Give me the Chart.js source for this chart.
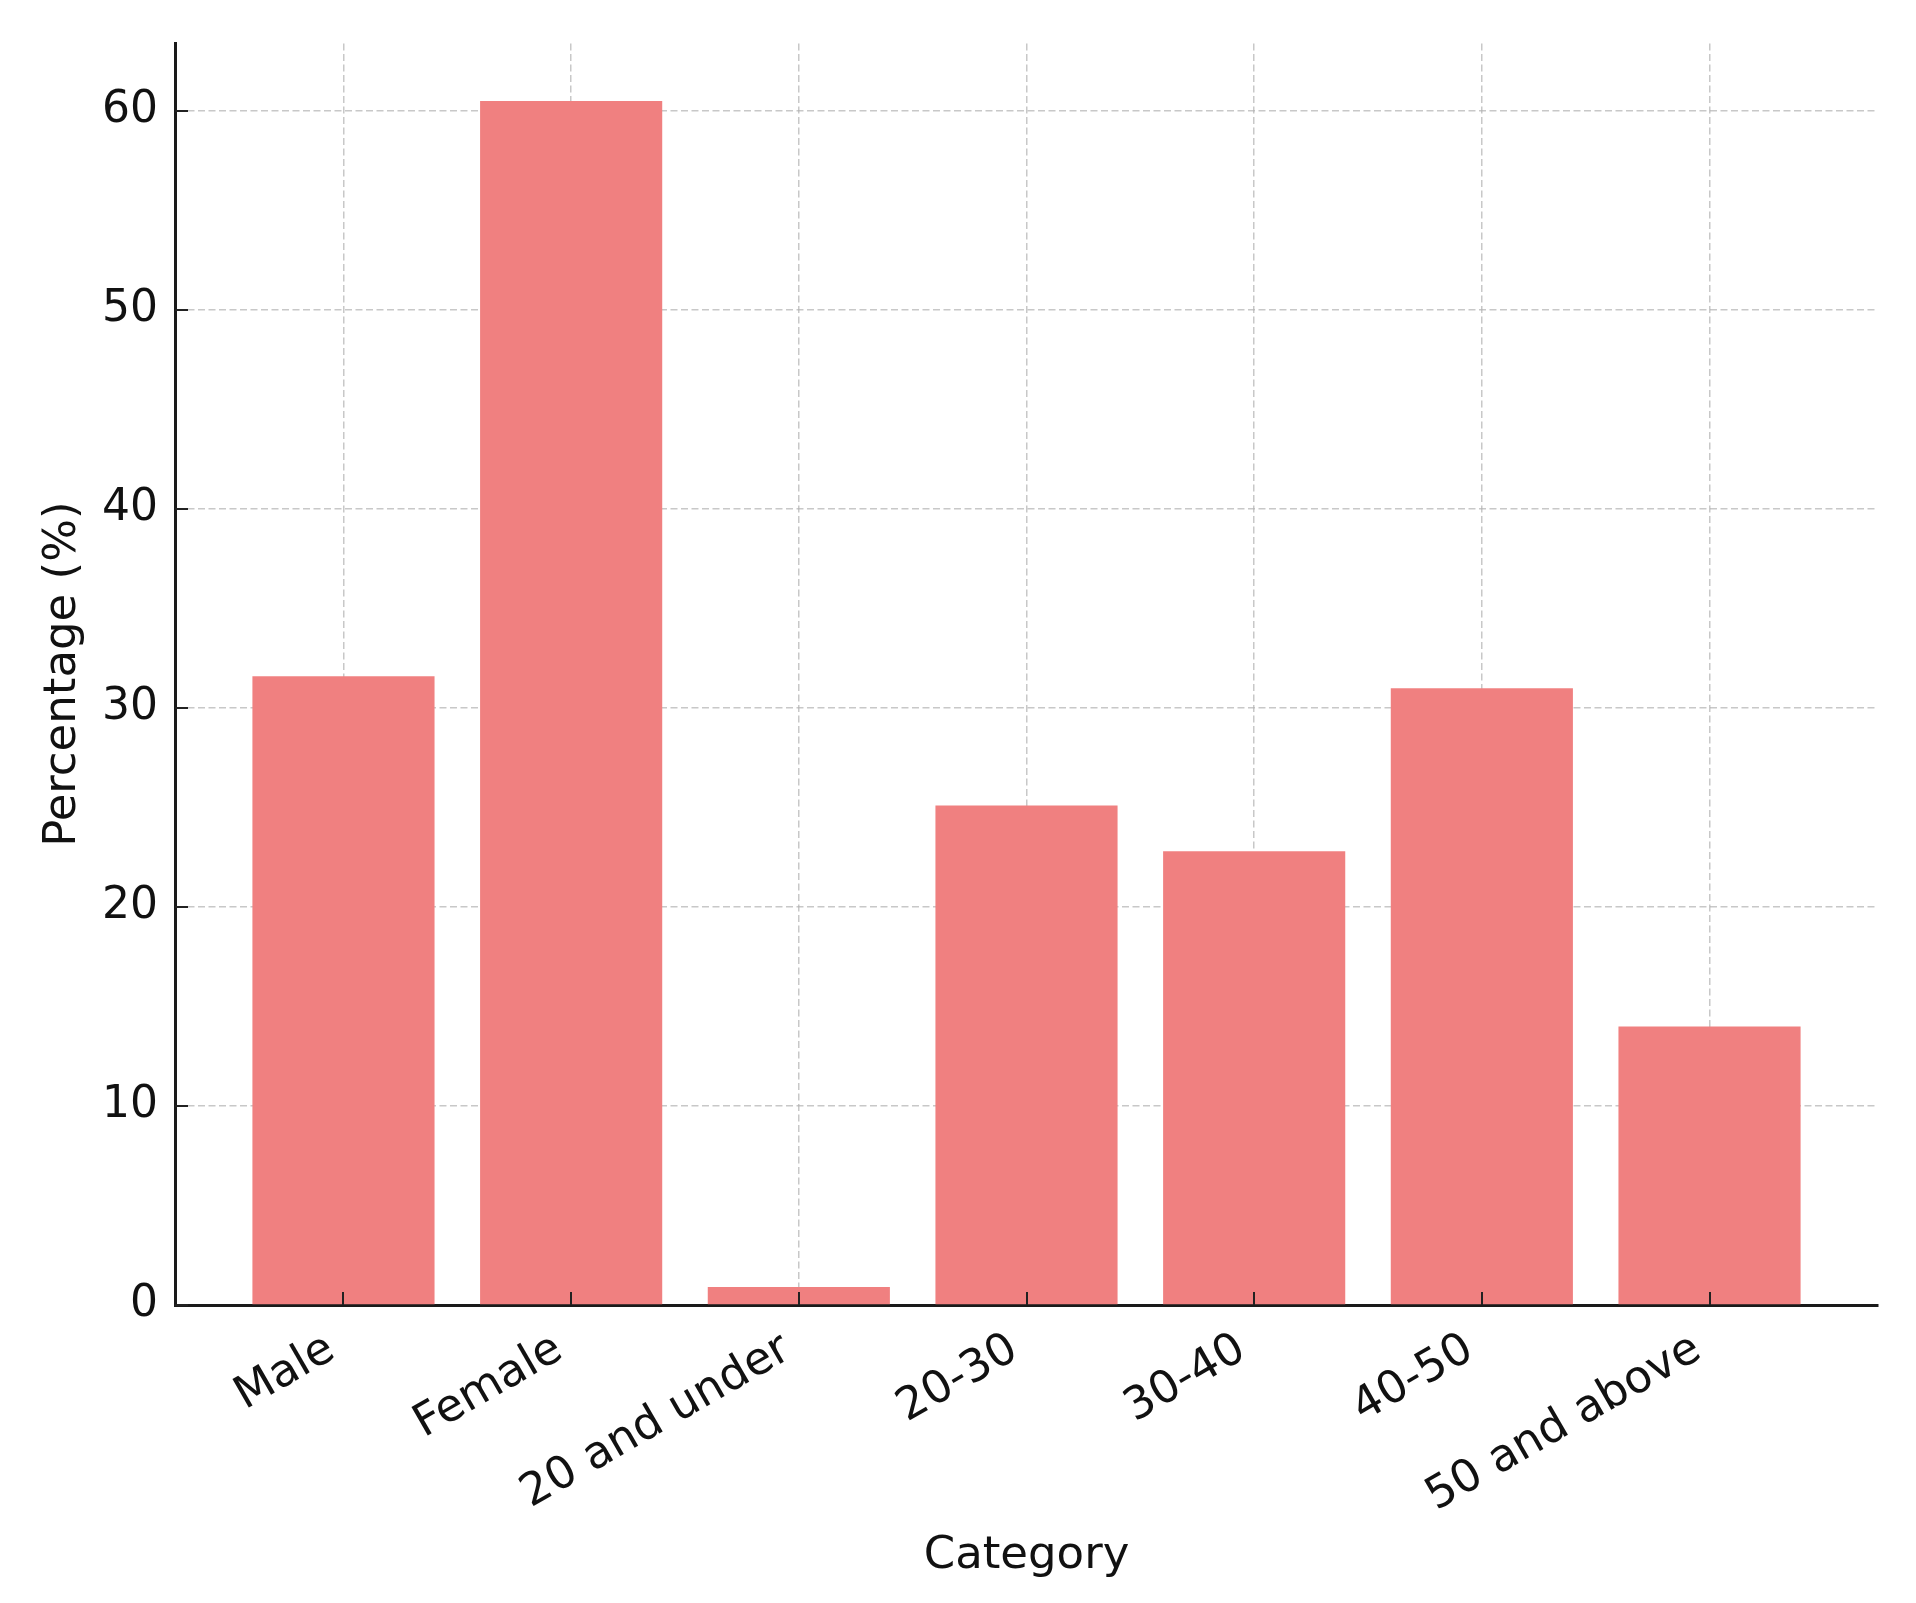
<!DOCTYPE html>
<html>
<head>
<meta charset="utf-8">
<script src="https://cdn.jsdelivr.net/npm/chart.js@4.4.1/dist/chart.umd.min.js"></script>
<style>
  html, body { margin: 0; padding: 0; background: #fff; }
  #chart { display: block; }
</style>
</head>
<body>
<canvas id="chart" width="1916" height="1603"></canvas>
<script>
// Chart data
const categories = ['Male', 'Female', '20 and under', '20-30', '30-40', '40-50', '50 and above'];
const percentages = [31.6, 60.5, 0.9, 25.1, 22.8, 31.0, 14.0];
const yTicks = [0, 10, 20, 30, 40, 50, 60];

const FONT = 'DejaVu Sans';
const TEXT = '#111111';
const GRID = 'rgba(176, 176, 176, 0.7)';

// Short tick marks pointing into the plot, like the original
const inwardTicks = {
    id: 'inwardTicks',
    afterDraw(chart) {
        const { ctx, chartArea, scales: { x, y } } = chart;
        ctx.save();
        ctx.strokeStyle = '#222';
        ctx.lineWidth = 2;
        ctx.beginPath();
        x.ticks.forEach(t => {
            const px = Math.round(x.getPixelForValue(t.value));
            ctx.moveTo(px, chartArea.bottom);
            ctx.lineTo(px, chartArea.bottom - 13);
        });
        y.ticks.forEach(t => {
            const py = Math.round(y.getPixelForValue(t.value));
            ctx.moveTo(chartArea.left, py);
            ctx.lineTo(chartArea.left + 13, py);
        });
        ctx.stroke();
        ctx.restore();
    }
};

const ctx = document.getElementById('chart').getContext('2d');

new Chart(ctx, {
    type: 'bar',
    data: {
        datasets: [{
            label: 'Percentage (%)',
            data: categories.map((c, i) => ({ x: i, y: percentages[i] })),
            backgroundColor: '#F08080',
            borderWidth: 0,
            categoryPercentage: 1.0,
            barPercentage: 0.8
        }]
    },
    options: {
        responsive: false,
        animation: false,
        devicePixelRatio: 1,
        layout: {
            padding: { top: 37, right: 38, left: 0, bottom: 0 }
        },
        plugins: {
            legend: { display: false },
            tooltip: { enabled: false }
        },
        scales: {
            x: {
                type: 'linear',
                min: -0.74,
                max: 6.74,
                offset: false,
                z: 1,
                afterBuildTicks: scale => {
                    scale.ticks = categories.map((c, i) => ({ value: i }));
                },
                afterFit: scale => { scale.height = 298; },
                grid: {
                    color: GRID,
                    lineWidth: 1.5,
                    drawTicks: false,
                    offset: false
                },
                // in v4 the dash here styles the grid lines, the axis line stays solid
                border: {
                    display: true,
                    color: '#1a1a1a',
                    width: 3,
                    dash: [7, 3.5]
                },
                ticks: {
                    autoSkip: false,
                    minRotation: 30,
                    maxRotation: 30,
                    padding: 18,
                    labelOffset: -12,
                    color: TEXT,
                    font: { family: FONT, size: 45 },
                    callback: value => categories[value]
                },
                title: {
                    display: true,
                    text: 'Category',
                    color: TEXT,
                    font: { family: FONT, size: 45, lineHeight: 1.2 },
                    padding: { top: 0, bottom: 20 }
                }
            },
            y: {
                type: 'linear',
                min: 0,
                max: 63.4,
                z: 1,
                afterBuildTicks: scale => {
                    scale.ticks = yTicks.map(v => ({ value: v }));
                },
                afterFit: scale => { scale.width = 175; },
                grid: {
                    color: GRID,
                    lineWidth: 1.5,
                    drawTicks: false
                },
                border: {
                    display: true,
                    color: '#1a1a1a',
                    width: 3,
                    dash: [7, 3.5]
                },
                ticks: {
                    padding: 17,
                    color: TEXT,
                    font: { family: FONT, size: 44 }
                },
                title: {
                    display: true,
                    text: 'Percentage (%)',
                    color: TEXT,
                    font: { family: FONT, size: 45, lineHeight: 1.2 },
                    padding: { top: 36, bottom: 0 }
                }
            }
        }
    },
    plugins: [inwardTicks]
});
</script>
</body>
</html>
